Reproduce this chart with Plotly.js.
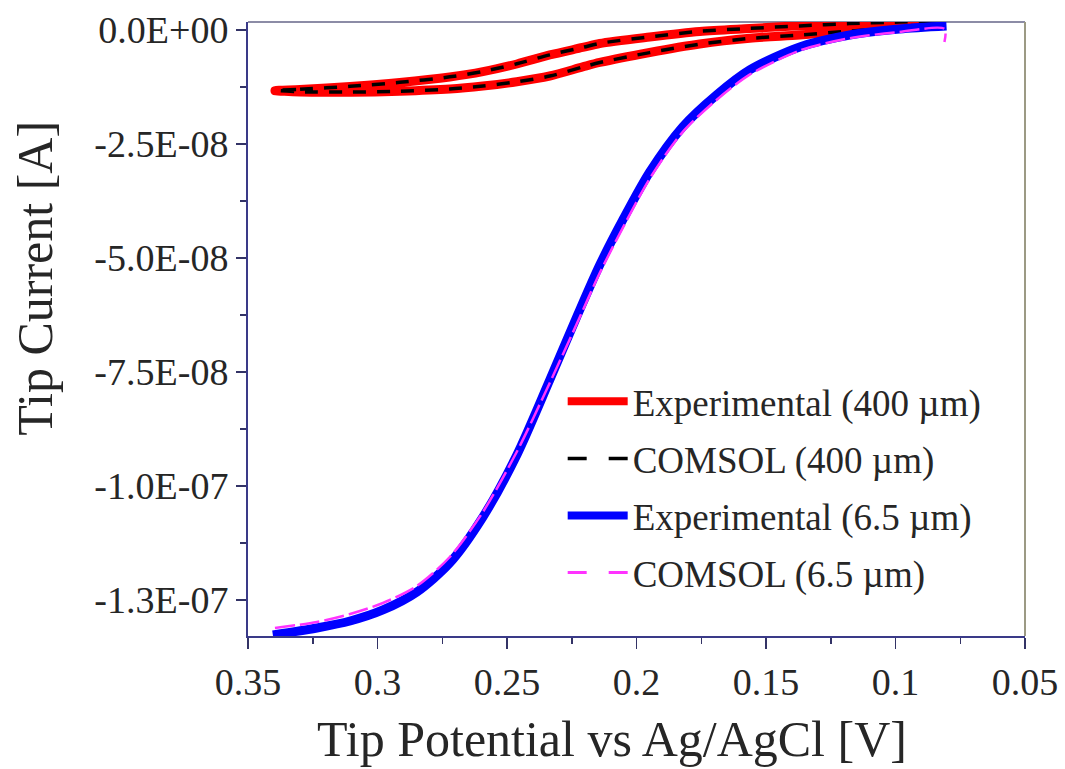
<!DOCTYPE html>
<html>
<head>
<meta charset="utf-8">
<script src="https://cdn.plot.ly/plotly-3.0.1.min.js"></script>
<style>
  html, body { margin: 0; padding: 0; background: #fff; }
  #chart { width: 1065px; height: 769px; }
</style>
</head>
<body>
<div id="chart"></div>
<script>
// ---- Data ----
// Experimental 400 µm: hysteresis loop, forward branch then return branch
const exp400_v = [0.3396, 0.3299, 0.3106, 0.2914, 0.2721, 0.2593, 0.2462, 0.2335, 0.2208, 0.2142, 0.1949, 0.1756, 0.1563, 0.1370, 0.1177, 0.0985, 0.0819,
                  0.0985, 0.1177, 0.1370, 0.1563, 0.1756, 0.1949, 0.2142, 0.2208, 0.2335, 0.2462, 0.2593, 0.2721, 0.2914, 0.3106, 0.3299, 0.3396];
const exp400_i = [-1.331e-8, -1.305e-8, -1.239e-8, -1.151e-8, -1.031e-8, -9.14e-9, -7.46e-9, -5.48e-9, -3.84e-9, -2.96e-9, -1.54e-9, -3.3e-10, 3.3e-10, 9.4e-10, 1.47e-9, 1.82e-9, 2.08e-9,
                  6.6e-10, -2.2e-10, -1.10e-9, -1.82e-9, -3.07e-9, -4.93e-9, -7.13e-9, -8.11e-9, -1.009e-8, -1.134e-8, -1.228e-8, -1.294e-8, -1.342e-8, -1.364e-8, -1.360e-8, -1.331e-8];

// COMSOL 400 µm
const com400_v = [0.3390, 0.3299, 0.3106, 0.2914, 0.2721, 0.2593, 0.2462, 0.2335, 0.2208, 0.2142, 0.1949, 0.1756, 0.1563, 0.1370, 0.1177, 0.0985, 0.0830,
                  0.0985, 0.1177, 0.1370, 0.1563, 0.1756, 0.1949, 0.2142, 0.2208, 0.2335, 0.2462, 0.2593, 0.2721, 0.2914, 0.3106, 0.3299, 0.3390];
const com400_i = [-1.325e-8, -1.300e-8, -1.236e-8, -1.148e-8, -1.028e-8, -9.10e-9, -7.42e-9, -5.45e-9, -3.82e-9, -2.93e-9, -1.50e-9, -3.0e-10, 3.5e-10, 9.0e-10, 1.40e-9, 1.75e-9, 1.95e-9,
                  6.0e-10, -2.5e-10, -1.12e-9, -1.85e-9, -3.10e-9, -4.96e-9, -7.15e-9, -8.13e-9, -1.011e-8, -1.136e-8, -1.230e-8, -1.296e-8, -1.344e-8, -1.362e-8, -1.356e-8, -1.325e-8];

// Experimental 6.5 µm
const exp65_v = [0.3404, 0.3234, 0.3106, 0.2979, 0.2848, 0.2721, 0.2593, 0.2462, 0.2335, 0.2231, 0.2142, 0.2053, 0.1949, 0.1822, 0.1691, 0.1563, 0.1370, 0.1177, 0.0985, 0.0803];
const exp65_i = [-1.3268e-7, -1.3114e-7, -1.2961e-7, -1.2719e-7, -1.2325e-7, -1.1689e-7, -1.0680e-7, -9.320e-8, -7.676e-8, -6.294e-8, -5.154e-8, -4.167e-8, -3.114e-8, -2.127e-8, -1.425e-8, -8.77e-9, -3.73e-9, -1.10e-9, 2.2e-10, 8.8e-10];

// COMSOL 6.5 µm
const com65_v = [0.3396, 0.3234, 0.3106, 0.2979, 0.2848, 0.2721, 0.2593, 0.2462, 0.2335, 0.2231, 0.2142, 0.2053, 0.1949, 0.1822, 0.1691, 0.1563, 0.1370, 0.1177, 0.0985, 0.0811, 0.0811];
const com65_i = [-1.3114e-7, -1.2982e-7, -1.2807e-7, -1.2566e-7, -1.2193e-7, -1.1557e-7, -1.0570e-7, -9.250e-8, -7.740e-8, -6.450e-8, -5.330e-8, -4.340e-8, -3.260e-8, -2.240e-8, -1.535e-8, -9.80e-9, -4.50e-9, -1.80e-9, -4.4e-10, 2.2e-10, -2.63e-9];

const series_names = ["Experimental (400 µm)", "COMSOL (400 µm)", "Experimental (6.5 µm)", "COMSOL (6.5 µm)"];

const x_tickvals = [0.35, 0.3, 0.25, 0.2, 0.15, 0.1, 0.05];
const x_ticktext = ["0.35", "0.3", "0.25", "0.2", "0.15", "0.1", "0.05"];
const x_minorvals = [0.325, 0.275, 0.225, 0.175, 0.125, 0.075];
const y_tickvals = [0, -2.5e-8, -5.0e-8, -7.5e-8, -1.0e-7, -1.25e-7];
const y_ticktext = ["0.0E+00", "-2.5E-08", "-5.0E-08", "-7.5E-08", "-1.0E-07", "-1.3E-07"];
const y_minorvals = [-1.25e-8, -3.75e-8, -6.25e-8, -8.75e-8, -1.125e-7];

const x_title = "Tip Potential vs Ag/AgCl [V]";
const y_title = "Tip Current [A]";

const FONT = "Liberation Serif, Times New Roman, serif";
const TXT = "#262626";

const RED = "#ff0000", BLACK = "#000000", BLUE = "#0000ff", MAGENTA = "#ff33ff";

const traces = [
  // plotted curves (legend entries are drawn by the legend-only traces below)
  { x: exp400_v, y: exp400_i, mode: "lines", showlegend: false,
    line: { color: RED, width: 9, shape: "spline", smoothing: 0.8 } },
  { x: com400_v, y: com400_i, mode: "lines", showlegend: false,
    line: { color: BLACK, width: 3.5, dash: "13px,11px", shape: "spline", smoothing: 0.8 } },
  { x: exp65_v, y: exp65_i, mode: "lines", showlegend: false,
    line: { color: BLUE, width: 9, shape: "spline", smoothing: 0.8 } },
  { x: com65_v, y: com65_i, mode: "lines", showlegend: false,
    line: { color: MAGENTA, width: 2.5, dash: "20px,5px", shape: "spline", smoothing: 0.8 } },
  // legend entries
  { x: [null], y: [null], name: series_names[0], mode: "lines", legendgroup: "a",
    line: { color: RED, width: 8 } },
  { x: [null], y: [null], name: series_names[1], mode: "lines", legendgroup: "b",
    line: { color: BLACK, width: 3.5, dash: "19px,22px" } },
  { x: [null], y: [null], name: series_names[2], mode: "lines", legendgroup: "c",
    line: { color: BLUE, width: 8 } },
  { x: [null], y: [null], name: series_names[3], mode: "lines", legendgroup: "d",
    line: { color: MAGENTA, width: 3, dash: "19px,22px" } }
];

const layout = {
  width: 1065, height: 769,
  margin: { l: 248, r: 40, t: 22, b: 133 },
  paper_bgcolor: "#ffffff", plot_bgcolor: "#ffffff",
  font: { family: FONT, color: TXT, size: 38 },
  showlegend: true,
  legend: {
    x: 0.405, y: 0.432, xanchor: "left", yanchor: "top",
    bgcolor: "rgba(0,0,0,0)", borderwidth: 0,
    font: { family: FONT, size: 37, color: TXT },
    traceorder: "grouped", tracegroupgap: 6, itemwidth: 60
  },
  xaxis: {
    range: [0.35, 0.05], autorange: false,
    tickmode: "array", tickvals: x_tickvals, ticktext: x_ticktext,
    ticks: "outside", ticklen: 11, tickwidth: 1.5, tickcolor: "#333366",
    minor: { tickmode: "array", tickvals: x_minorvals, ticks: "outside", ticklen: 6, tickwidth: 1.5, tickcolor: "#333366" },
    showline: true, linecolor: "#3a3a88", linewidth: 2, mirror: false,
    showgrid: false, zeroline: false,
    tickfont: { family: FONT, size: 38, color: TXT }
  },
  yaxis: {
    range: [-1.329e-7, 1.75e-9], autorange: false,
    tickmode: "array", tickvals: y_tickvals, ticktext: y_ticktext,
    ticks: "outside", ticklen: 10, tickwidth: 1.5, tickcolor: "#333366",
    minor: { tickmode: "array", tickvals: y_minorvals, ticks: "outside", ticklen: 6, tickwidth: 1.5, tickcolor: "#333366" },
    showline: true, linecolor: "#3a3a88", linewidth: 2, mirror: false,
    showgrid: false, zeroline: false,
    tickfont: { family: FONT, size: 38, color: TXT }
  },
  annotations: [
    { text: x_title, xref: "paper", yref: "paper", x: 0.4685, y: -0.168, xanchor: "center", yanchor: "middle",
      showarrow: false, font: { family: FONT, size: 50, color: TXT } },
    { text: y_title, xref: "paper", yref: "paper", x: -0.2745, y: 0.583, xanchor: "center", yanchor: "middle",
      textangle: -90, showarrow: false, font: { family: FONT, size: 50, color: TXT } }
  ],
  shapes: [
    { type: "line", xref: "paper", yref: "paper", x0: 0, x1: 1, y0: 1, y1: 1, line: { color: "#8c8ca6", width: 2 }, layer: "below" },
    { type: "line", xref: "paper", yref: "paper", x0: 1, x1: 1, y0: 0, y1: 1, line: { color: "#9c9a84", width: 2 }, layer: "below" }
  ]
};

Plotly.newPlot("chart", traces, layout, { displayModeBar: false, staticPlot: true });
</script>
</body>
</html>
